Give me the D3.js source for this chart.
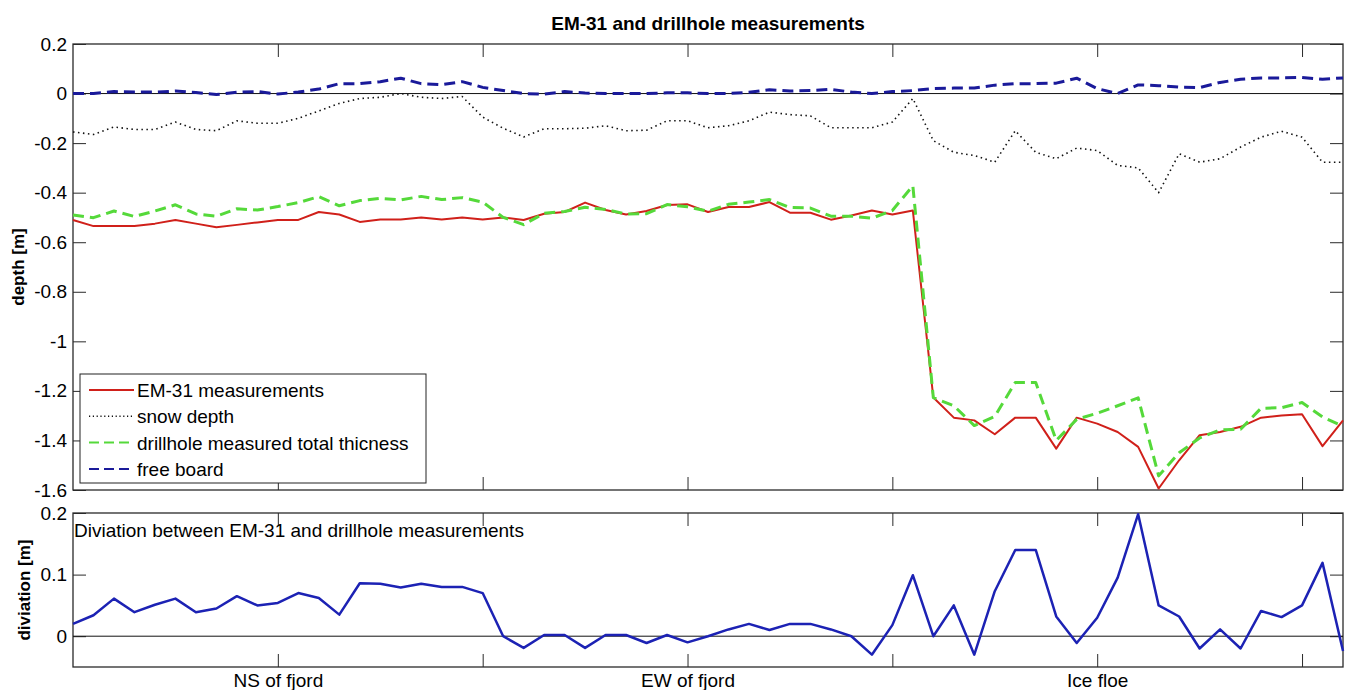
<!DOCTYPE html>
<html lang="en">
<head>
<meta charset="UTF-8">
<title>EM-31 and drillhole measurements</title>
<script src="https://cdn.jsdelivr.net/npm/d3@7"></script>
<style>
  body { margin: 0; background: #fff; }
  svg text { font-family: "Liberation Sans", Arial, sans-serif; }
</style>
</head>
<body>
<script>
// measurement stations (index along the profile)
var stations = d3.range(63);

var xTicks = [10, 20, 30, 40, 50, 60];
var xTickLabels = ["NS of fjord", "", "EW of fjord", "", "Ice floe", ""];
var depthTicks = [0.2, 0, -0.2, -0.4, -0.6, -0.8, -1, -1.2, -1.4, -1.6];
var devTicks = [0, 0.1, 0.2];

var legendNames = ["EM-31 measurements", "snow depth", "drillhole measured total thicness", "free board"];

var em31 = [-0.51, -0.535, -0.535, -0.535, -0.525, -0.51, -0.525, -0.54, -0.53, -0.52,
            -0.51, -0.51, -0.478, -0.488, -0.518, -0.508, -0.508, -0.50, -0.508, -0.50,
            -0.508, -0.50, -0.51, -0.485, -0.478, -0.44, -0.47, -0.488, -0.474, -0.45,
            -0.447, -0.478, -0.458, -0.458, -0.438, -0.481, -0.481, -0.509, -0.492, -0.472,
            -0.488, -0.472, -1.227, -1.308, -1.319, -1.375, -1.308, -1.308, -1.433, -1.308,
            -1.332, -1.366, -1.426, -1.594, -1.48, -1.379, -1.366, -1.345, -1.308, -1.299,
            -1.294, -1.423, -1.319];

var snow = [-0.155, -0.165, -0.135, -0.145, -0.145, -0.115, -0.145, -0.15, -0.11, -0.12,
            -0.12, -0.10, -0.07, -0.04, -0.02, -0.015, 0.0, -0.015, -0.02, -0.012,
            -0.095, -0.14, -0.175, -0.142, -0.142, -0.14, -0.13, -0.15, -0.148, -0.11,
            -0.11, -0.138, -0.13, -0.11, -0.075, -0.085, -0.09, -0.138, -0.138, -0.138,
            -0.115, -0.02, -0.19, -0.237, -0.25, -0.277, -0.15, -0.237, -0.263, -0.22,
            -0.23, -0.29, -0.30, -0.40, -0.243, -0.277, -0.263, -0.216, -0.176, -0.152,
            -0.176, -0.277, -0.277];

var drillhole = [-0.49, -0.501, -0.474, -0.496, -0.474, -0.449, -0.486, -0.495, -0.465, -0.47,
                 -0.456, -0.44, -0.416, -0.453, -0.432, -0.423, -0.429, -0.415, -0.428, -0.42,
                 -0.438, -0.50, -0.529, -0.483, -0.476, -0.459, -0.468, -0.486, -0.485, -0.448,
                 -0.457, -0.475, -0.447, -0.438, -0.428, -0.46, -0.462, -0.495, -0.495, -0.503,
                 -0.472, -0.372, -1.227, -1.26, -1.34, -1.303, -1.166, -1.166, -1.40, -1.315,
                 -1.29, -1.26, -1.228, -1.543, -1.45, -1.39, -1.357, -1.355, -1.27, -1.268,
                 -1.247, -1.305, -1.343];

var freeboard = [0.0, 0.0, 0.008, 0.006, 0.006, 0.01, 0.004, -0.004, 0.005, 0.008,
                 -0.002, 0.006, 0.018, 0.04, 0.04, 0.048, 0.062, 0.04, 0.036, 0.048,
                 0.025, 0.012, 0.0, -0.002, 0.008, 0.002, 0.0, 0.0, 0.0, 0.003,
                 0.003, 0.0, 0.0, 0.005, 0.015, 0.01, 0.012, 0.017, 0.006, 0.0,
                 0.008, 0.012, 0.02, 0.022, 0.022, 0.034, 0.04, 0.04, 0.042, 0.062,
                 0.02, 0.0, 0.035, 0.032, 0.026, 0.024, 0.045, 0.058, 0.063, 0.063,
                 0.065, 0.058, 0.063];

var deviation = [0.020, 0.034, 0.061, 0.039, 0.051, 0.061, 0.039, 0.045, 0.065, 0.050,
                 0.054, 0.070, 0.062, 0.035, 0.086, 0.085, 0.079, 0.085, 0.080, 0.080,
                 0.070, 0.0, -0.019, 0.002, 0.002, -0.019, 0.002, 0.002, -0.011, 0.002,
                 -0.010, 0.0, 0.011, 0.020, 0.010, 0.020, 0.020, 0.011, 0.0, -0.030,
                 0.018, 0.099, 0.0, 0.050, -0.030, 0.073, 0.140, 0.140, 0.032, -0.011,
                 0.030, 0.095, 0.198, 0.050, 0.032, -0.020, 0.011, -0.020, 0.041, 0.031,
                 0.050, 0.119, -0.024];

var W = 1347, H = 690;
var left = 73, right = 1343;
var top1 = 44, bot1 = 490;
var top2 = 513, bot2 = 667;
var frameColor = "#2a2a2a";

var svg = d3.select("body").append("svg")
    .attr("width", W)
    .attr("height", H);

svg.append("rect").attr("width", W).attr("height", H).attr("fill", "#fff");

var x = d3.scaleLinear().domain([0, 62]).range([left, right]);
var yTop = d3.scaleLinear().domain([-1.6, 0.2]).range([bot1, top1]);
var yBot = d3.scaleLinear().domain([-0.05, 0.2]).range([bot2, top2]);

function numFmt(d) { return String(+d.toFixed(1)); }

function styleAxis(g) {
    g.attr("font-size", 19)
     .attr("font-family", '"Liberation Sans", Arial, sans-serif')
     .attr("color", frameColor);
    g.select(".domain").remove();
    g.selectAll(".tick text").attr("fill", "#000");
}

function drawFrame(y, yTicks, yTop0, yBot0, showXLabels) {
    // ticks pointing inward on all four sides
    svg.append("g").attr("transform", "translate(" + left + ",0)")
        .call(d3.axisLeft(y).tickValues(yTicks).tickSize(-13).tickPadding(6).tickFormat(numFmt))
        .call(styleAxis);
    svg.append("g").attr("transform", "translate(" + right + ",0)")
        .call(d3.axisRight(y).tickValues(yTicks).tickSize(-13).tickFormat(""))
        .call(styleAxis);
    svg.append("g").attr("transform", "translate(0," + yTop0 + ")")
        .call(d3.axisTop(x).tickValues(xTicks).tickSize(-13).tickFormat(""))
        .call(styleAxis);
    svg.append("g").attr("transform", "translate(0," + yBot0 + ")")
        .call(d3.axisBottom(x).tickValues(xTicks).tickSize(-13).tickPadding(7)
            .tickFormat(function (d, i) { return showXLabels ? xTickLabels[i] : ""; }))
        .call(styleAxis);

    svg.append("rect")
        .attr("x", left).attr("y", yTop0)
        .attr("width", right - left).attr("height", yBot0 - yTop0)
        .attr("fill", "none")
        .attr("stroke", frameColor)
        .attr("stroke-width", 1.3);

    // zero line
    svg.append("line")
        .attr("x1", left).attr("x2", right)
        .attr("y1", y(0)).attr("y2", y(0))
        .attr("stroke", "#111")
        .attr("stroke-width", 1);
}

function addLine(data, y, color, width, dash) {
    var line = d3.line()
        .x(function (d, i) { return x(stations[i]); })
        .y(function (d) { return y(d); });
    svg.append("path")
        .datum(data)
        .attr("d", line)
        .attr("fill", "none")
        .attr("stroke", color)
        .attr("stroke-width", width)
        .attr("stroke-dasharray", dash || null)
        .attr("stroke-linejoin", "round");
}

// ---- top panel
drawFrame(yTop, depthTicks, top1, bot1, false);

var styles = [
    { color: "#d0201a", width: 2, dash: null },
    { color: "#111", width: 1.6, dash: "1.5,3.5" },
    { color: "#55d93a", width: 3, dash: "11,6" },
    { color: "#1a1a9a", width: 3, dash: "11,6" }
];
var series = [em31, snow, drillhole, freeboard];
series.forEach(function (s, k) {
    addLine(s, yTop, styles[k].color, styles[k].width, styles[k].dash);
});

svg.append("text")
    .attr("x", (left + right) / 2).attr("y", 30)
    .attr("text-anchor", "middle")
    .attr("font-size", 19).attr("font-weight", "bold")
    .text("EM-31 and drillhole measurements");

svg.append("text")
    .attr("transform", "translate(24," + (top1 + bot1) / 2 + ") rotate(-90)")
    .attr("text-anchor", "middle")
    .attr("font-size", 17).attr("font-weight", "bold")
    .text("depth [m]");

// legend
var lg = svg.append("g");
lg.append("rect")
    .attr("x", 80).attr("y", 374).attr("width", 346).attr("height", 109)
    .attr("fill", "#fff").attr("stroke", "#222").attr("stroke-width", 1);
legendNames.forEach(function (name, k) {
    var cy = 390 + k * 26.3;
    lg.append("line")
        .attr("x1", 89).attr("x2", 134).attr("y1", cy).attr("y2", cy)
        .attr("stroke", styles[k].color)
        .attr("stroke-width", k === 1 ? 1.4 : 2)
        .attr("stroke-dasharray", k === 0 ? null : (k === 1 ? "1.2,2.6" : "10,5"));
    lg.append("text")
        .attr("x", 137).attr("y", cy + 7)
        .attr("font-size", 19)
        .text(name);
});

// ---- bottom panel
drawFrame(yBot, devTicks, top2, bot2, true);
addLine(deviation, yBot, "#1c22b4", 2.5, null);

svg.append("text")
    .attr("x", left + 1).attr("y", 537)
    .attr("font-size", 19)
    .text("Diviation between EM-31 and drillhole measurements");

svg.append("text")
    .attr("transform", "translate(30," + (top2 + bot2) / 2 + ") rotate(-90)")
    .attr("text-anchor", "middle")
    .attr("font-size", 17).attr("font-weight", "bold")
    .text("diviation [m]");
</script>
</body>
</html>
